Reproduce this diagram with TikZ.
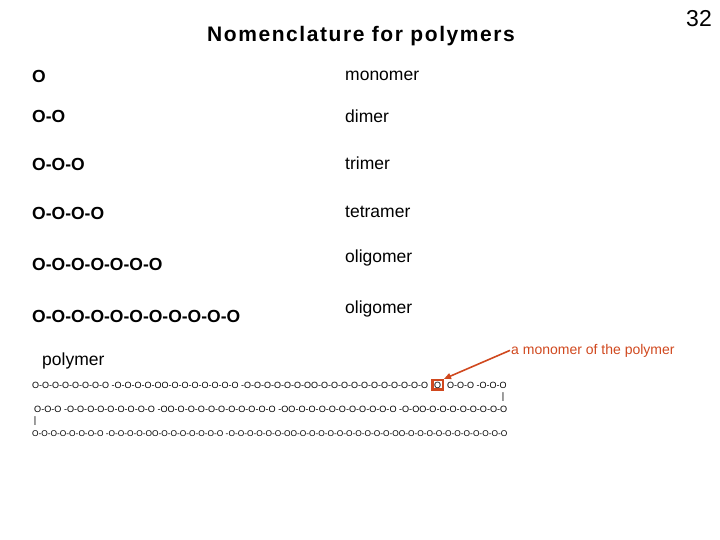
\documentclass[tikz,border=0pt]{standalone}
\usepackage{fontspec}
\setmainfont{Liberation Sans}
\usetikzlibrary{arrows.meta}
\definecolor{accent}{RGB}{208,72,30}
\begin{document}
\begin{tikzpicture}[x=1pt,y=-1pt,
  chainbig/.style={anchor=base west, inner sep=0pt, font=\bfseries\fontsize{17.5}{20}\selectfont},
  lbl/.style={anchor=base west, inner sep=0pt, font=\fontsize{17.5}{20}\selectfont},
  chn/.style={anchor=base west, inner sep=0pt, font=\fontsize{9}{11}\selectfont},
  monobox/.style={chn, draw=accent, line width=2.5pt, inner sep=1.6pt},
  bond/.style={anchor=center, inner sep=0pt, font=\fontsize{9.5}{11}\selectfont}]
\useasboundingbox (0,0) rectangle (720,540);
% title and page number
\node[anchor=base, inner sep=0pt, font=\bfseries\fontsize{21}{24}\selectfont\addfontfeature{LetterSpace=7.5}] (title) at (361,42) {Nomenclature for polymers};
\node[anchor=base east, inner sep=0pt, font=\fontsize{23}{26}\selectfont] (page) at (712,27) {32};
% left column
\node[chainbig] (c1) at (32,83) {O};
\node[chainbig] (c2) at (32,123) {O-O};
\node[chainbig] (c3) at (32,171) {O-O-O};
\node[chainbig] (c4) at (32,219) {O-O-O-O};
\node[chainbig] (c5) at (32,270) {O-O-O-O-O-O-O};
\node[chainbig] (c6) at (32,322) {O-O-O-O-O-O-O-O-O-O-O};
% right column
\node[lbl] (n1) at (345,81) {monomer};
\node[lbl] (n2) at (345,123) {dimer};
\node[lbl] (n3) at (345,170) {trimer};
\node[lbl] (n4) at (345,218) {tetramer};
\node[lbl] (n5) at (345,262) {oligomer};
\node[lbl] (n6) at (345,313) {oligomer};
% polymer
\node[lbl] (poly) at (42,365) {polymer};
\node[chn] (l1a) at (32,388) {O-O-O-O-O-O-O-O -O-O-O-O-OO-O-O-O-O-O-O-O -O-O-O-O-O-O-OO-O-O-O-O-O-O-O-O-O-O-O};
\node[monobox] (mono) at ([xshift=3pt]l1a.base east) {O};
\node[chn] (l1b) at ([xshift=3pt]mono.base east) {O-O-O -O-O-O};
\node[chn] (l2) at (34,412) {\resizebox{473pt}{!}{O-O-O -O-O-O-O-O-O-O-O-O -OO-O-O-O-O-O-O-O-O-O-O -OO-O-O-O-O-O-O-O-O-O-O -O-OO-O-O-O-O-O-O-O-O}};
\node[chn] (l3) at (32,436) {\resizebox{475pt}{!}{O-O-O-O-O-O-O-O -O-O-O-O-OO-O-O-O-O-O-O-O -O-O-O-O-O-O-OO-O-O-O-O-O-O-O-O-O-O-OO-O-O-O-O-O-O-O-O-O-O-O}};
\node[bond] (b1) at (503,397) {|};
\node[bond] (b2) at (35,421) {|};
% annotation
\node[anchor=base west, inner sep=1pt, text=accent, font=\fontsize{14}{16}\selectfont] (lab) at (510,354) {a monomer of the polymer};
\draw[accent, line width=1.6pt, -{Triangle[length=7pt,width=6pt]}] (lab.west) -- (mono.north east);
\end{tikzpicture}
\end{document}
